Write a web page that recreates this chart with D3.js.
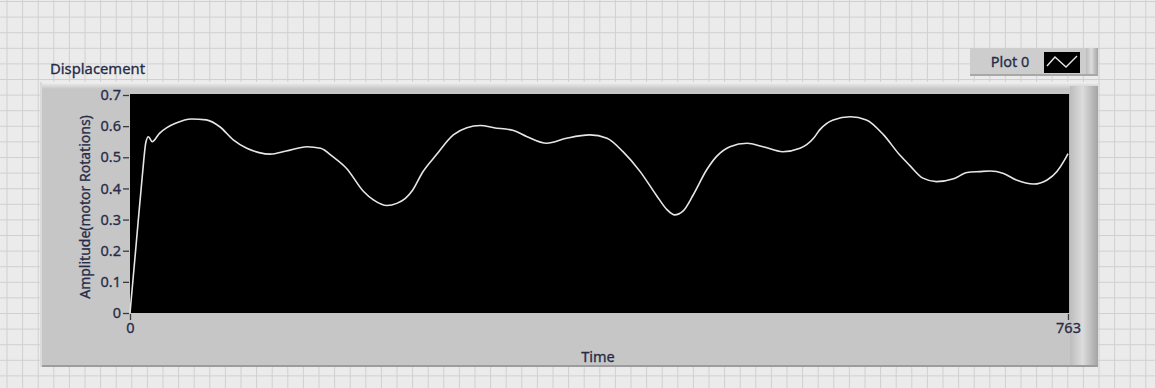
<!DOCTYPE html>
<html>
<head>
<meta charset="utf-8">
<script src="https://cdn.jsdelivr.net/npm/d3@7"></script>
<style>
  html, body { margin: 0; padding: 0; background: #ececec; }
  svg { display: block; }
  text { font-family: "Segoe UI", "Noto Sans", "Open Sans", sans-serif; }
</style>
</head>
<body>
<svg id="chart" width="1155" height="388"></svg>
<script>
// Sample index (Time) and measured displacement (motor rotations)
const timeIdx = [0, 5, 10, 13, 15, 18, 24, 30, 37, 50, 62, 73, 84, 95, 105, 114, 127, 144, 155, 165,
  176, 190, 198, 209, 217, 224, 230, 238, 249, 263, 274, 285, 296, 312, 323, 339, 355, 374, 388, 401,
  415, 428, 437, 443, 450, 458, 469, 477, 488, 502, 515, 531, 545, 556, 561, 572, 586, 599, 613, 626,
  634, 645, 656, 670, 681, 691, 700, 710, 721, 735, 746, 754, 760, 763];
const amplitude = [0.0, 0.22, 0.44, 0.55, 0.566, 0.55, 0.577, 0.595, 0.609, 0.623, 0.62, 0.598, 0.556, 0.529, 0.515, 0.51, 0.52, 0.534, 0.529, 0.502,
  0.465, 0.39, 0.363, 0.345, 0.352, 0.368, 0.395, 0.452, 0.507, 0.572, 0.595, 0.602, 0.595, 0.586, 0.566, 0.545, 0.561, 0.572, 0.561, 0.518,
  0.454, 0.379, 0.331, 0.315, 0.328, 0.378, 0.459, 0.502, 0.534, 0.545, 0.534, 0.518, 0.529, 0.561, 0.588, 0.62, 0.63, 0.62, 0.572, 0.508,
  0.475, 0.433, 0.422, 0.431, 0.451, 0.454, 0.456, 0.449, 0.427, 0.414, 0.427, 0.454, 0.49, 0.512];

const yTicks = [0, 0.1, 0.2, 0.3, 0.4, 0.5, 0.6, 0.7];
const xTicks = [0, 763];
const chartTitle = "Displacement";
const xTitle = "Time";
const yTitle = "Amplitude(motor Rotations)";
const legendLabel = "Plot 0";

const W = 1155, H = 388;
const svg = d3.select("#chart");
const defs = svg.append("defs");

// Background design grid
const bg = svg.append("g");
bg.append("rect").attr("width", W).attr("height", H).attr("fill", "#ebebeb");
const step = 15.6;
bg.selectAll("line.gx").data(d3.range(7, W, step)).join("line")
  .attr("x1", d => d).attr("x2", d => d).attr("y1", 0).attr("y2", H)
  .attr("stroke", "#d0d0d0").attr("stroke-width", 1);
bg.selectAll("line.gy").data(d3.range(1.5, H, step)).join("line")
  .attr("x1", 0).attr("x2", W).attr("y1", d => d).attr("y2", d => d)
  .attr("stroke", "#d0d0d0").attr("stroke-width", 1);

// Bevel gradients
const bevelR = defs.append("linearGradient").attr("id", "bevelR").attr("x1", 0).attr("x2", 1).attr("y1", 0).attr("y2", 0);
bevelR.append("stop").attr("offset", 0).attr("stop-color", "#bdbdbd");
bevelR.append("stop").attr("offset", 0.45).attr("stop-color", "#dcdcdc");
bevelR.append("stop").attr("offset", 1).attr("stop-color", "#a4a4a4");
const bevelT = defs.append("linearGradient").attr("id", "bevelT").attr("x1", 0).attr("x2", 0).attr("y1", 0).attr("y2", 1);
bevelT.append("stop").attr("offset", 0).attr("stop-color", "#f2f2f2");
bevelT.append("stop").attr("offset", 1).attr("stop-color", "#c6c6c6");

// Graph panel
const panel = { x: 40, y: 82, w: 1058, h: 285 };
svg.append("rect").attr("x", panel.x).attr("y", panel.y).attr("width", panel.w).attr("height", panel.h).attr("fill", "#c6c6c6");
svg.append("rect").attr("x", panel.x).attr("y", panel.y).attr("width", panel.w).attr("height", 7).attr("fill", "url(#bevelT)");
svg.append("rect").attr("x", panel.x + panel.w - 28).attr("y", panel.y + 4).attr("width", 28).attr("height", panel.h - 4).attr("fill", "url(#bevelR)");
svg.append("rect").attr("x", panel.x).attr("y", panel.y + panel.h - 2).attr("width", panel.w).attr("height", 2).attr("fill", "#9c9c9c");
svg.append("rect").attr("x", panel.x).attr("y", panel.y).attr("width", 2).attr("height", panel.h).attr("fill", "#dadada");

// Scales
const x = d3.scaleLinear().domain([0, 763]).range([130, 1068]);
const y = d3.scaleLinear().domain([0, 0.7]).range([313, 95]);

// Plot area
svg.append("rect").attr("x", 130).attr("y", 94).attr("width", 939).attr("height", 219).attr("fill", "#000");
svg.append("line").attr("x1", 1069.5).attr("x2", 1069.5).attr("y1", 94).attr("y2", 313)
  .attr("stroke", "#b0b0b0").attr("stroke-width", 1);

// Axes
const textColor = "#262c48";
const yAxis = svg.append("g").attr("transform", "translate(129,0)")
  .call(d3.axisLeft(y).tickValues(yTicks).tickFormat(d3.format("~g")).tickSize(6).tickPadding(2));
const xAxis = svg.append("g").attr("transform", "translate(0,314)")
  .call(d3.axisBottom(x).tickValues(xTicks).tickFormat(d3.format("d")).tickSize(6).tickPadding(3));
[yAxis, xAxis].forEach(a => {
  a.select(".domain").remove();
  a.selectAll(".tick line").attr("stroke", "#3a3a3a").attr("stroke-width", 1.3);
  a.selectAll(".tick text").attr("fill", textColor).attr("font-size", 14.5)
    .attr("stroke", textColor).attr("stroke-width", 0.3)
    .attr("font-family", "'Segoe UI','Noto Sans',sans-serif");
});

// Signal trace
const line = d3.line().x((d, i) => x(timeIdx[i])).y(d => y(d)).curve(d3.curveMonotoneX);
svg.append("path").datum(amplitude).attr("d", line)
  .attr("fill", "none").attr("stroke", "#e6e6e6").attr("stroke-width", 1.6).attr("stroke-linejoin", "round");

// Titles
const label = (sel, size) => sel.attr("font-size", size).attr("fill", textColor)
  .attr("stroke", textColor).attr("stroke-width", 0.3);
label(svg.append("text").attr("x", 50).attr("y", 74), 14.8).text(chartTitle);
label(svg.append("text").attr("x", 598).attr("y", 362).attr("text-anchor", "middle"), 14.5).text(xTitle);
label(svg.append("text").attr("transform", "translate(90,207) rotate(-90)").attr("text-anchor", "middle"), 14).text(yTitle);

// Legend
const lg = svg.append("g");
lg.append("rect").attr("x", 970).attr("y", 48).attr("width", 128).attr("height", 28).attr("fill", "#cdcdcd");
lg.append("rect").attr("x", 1086).attr("y", 48).attr("width", 12).attr("height", 28).attr("fill", "url(#bevelR)");
lg.append("rect").attr("x", 970).attr("y", 74).attr("width", 128).attr("height", 2).attr("fill", "#a8a8a8");
label(lg.append("text").attr("x", 1010).attr("y", 67).attr("text-anchor", "middle"), 14.5).text(legendLabel);
lg.append("rect").attr("x", 1044).attr("y", 52).attr("width", 36).attr("height", 21).attr("fill", "#000");
lg.append("path").attr("d", "M1047,66 L1055,57 L1066,67 L1077,56")
  .attr("fill", "none").attr("stroke", "#e6e6e6").attr("stroke-width", 1.4);
</script>
</body>
</html>
